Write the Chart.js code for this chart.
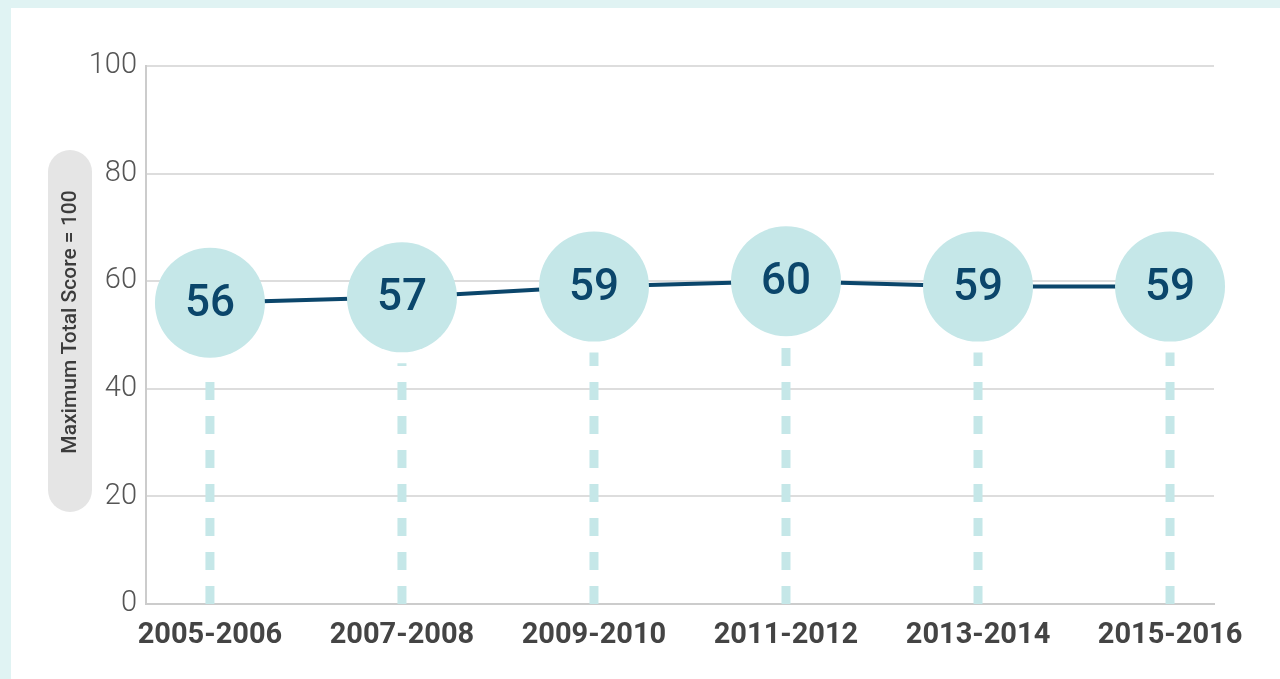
<!DOCTYPE html>
<html>
<head>
<meta charset="utf-8">
<script src="https://cdn.jsdelivr.net/npm/chart.js@4/dist/chart.umd.min.js"></script>
<style>
  html, body { margin: 0; padding: 0; background: #e0f3f3; overflow: hidden; }
  #panel { position: absolute; left: 11px; top: 8px; width: 1269px; height: 671px; background: #fff; }
  canvas { display: block; }
</style>
</head>
<body>
<div id="panel"><canvas id="scoreChart" width="1269" height="671"></canvas></div>
<script>
// Data
const years = ['2005-2006', '2007-2008', '2009-2010', '2011-2012', '2013-2014', '2015-2016'];
const scores = [56, 57, 59, 60, 59, 59];
const yTicks = [0, 20, 40, 60, 80, 100];
const yTitle = 'Maximum Total Score = 100';

const navy = '#0b466b';
const bubble = '#c5e7e8';

// dashed drop lines from each bubble down to the axis
const dropLines = {
    id: 'dropLines',
    beforeDatasetsDraw(chart) {
        const ctx = chart.ctx;
        const meta = chart.getDatasetMeta(0);
        const bottom = chart.chartArea.bottom;
        ctx.save();
        ctx.strokeStyle = bubble;
        ctx.lineWidth = 9;
        ctx.setLineDash([18, 16]);
        meta.data.forEach(function (pt) {
            ctx.beginPath();
            ctx.moveTo(pt.x, bottom);
            ctx.lineTo(pt.x, pt.y + 66);
            ctx.stroke();
        });
        ctx.restore();
    }
};

// score numbers inside bubbles + the pill shaped y title
const bubbleLabels = {
    id: 'bubbleLabels',
    afterDatasetsDraw(chart) {
        const ctx = chart.ctx;
        const meta = chart.getDatasetMeta(0);
        ctx.save();
        ctx.fillStyle = navy;
        ctx.font = '500 44px Roboto';
        ctx.textAlign = 'center';
        ctx.textBaseline = 'middle';
        meta.data.forEach(function (pt, i) {
            ctx.fillText(String(scores[i]), pt.x, pt.y + 2);
        });
        ctx.restore();
    },
    afterDraw(chart) {
        const ctx = chart.ctx;
        const x = 37, y = 142, w = 44, h = 362, r = 22;
        ctx.save();
        ctx.fillStyle = '#e5e5e5';
        ctx.beginPath();
        ctx.roundRect(x, y, w, h, r);
        ctx.fill();
        ctx.translate(x + w / 2, 314);
        ctx.rotate(-Math.PI / 2);
        ctx.fillStyle = '#3c3c3c';
        ctx.font = '500 21px Roboto';
        ctx.textAlign = 'center';
        ctx.textBaseline = 'middle';
        ctx.fillText(yTitle, 0, 1);
        ctx.restore();
    }
};

const ctx = document.getElementById('scoreChart').getContext('2d');
new Chart(ctx, {
    type: 'line',
    data: {
        datasets: [{
            data: scores.map(function (v, i) { return { x: i, y: v }; }),
            borderColor: navy,
            borderWidth: 4,
            tension: 0,
            clip: false,
            pointRadius: 55,
            pointHoverRadius: 55,
            pointBackgroundColor: bubble,
            pointBorderWidth: 0,
            pointHoverBorderWidth: 0
        }]
    },
    options: {
        responsive: false,
        animation: false,
        events: [],
        layout: { padding: { left: 0, top: 58, right: 66, bottom: 0 } },
        plugins: {
            legend: { display: false },
            tooltip: { enabled: false }
        },
        scales: {
            x: {
                type: 'linear',
                min: -0.333,
                max: 5.229,
                afterBuildTicks: function (scale) {
                    scale.ticks = years.map(function (_, i) { return { value: i }; });
                },
                afterFit: function (scale) { scale.height = 75; },
                grid: { display: false, drawTicks: false },
                border: { display: true, color: '#cccccc', width: 2 },
                ticks: {
                    autoSkip: false,
                    maxRotation: 0,
                    padding: 14,
                    color: '#444444',
                    font: { family: 'Roboto', size: 29, weight: 'bold' },
                    callback: function (v) { return years[v]; }
                }
            },
            y: {
                min: 0,
                max: 100,
                afterBuildTicks: function (scale) {
                    scale.ticks = yTicks.map(function (v) { return { value: v }; });
                },
                afterFit: function (scale) { scale.width = 135; },
                grid: { color: '#dddddd', lineWidth: 2, drawTicks: false },
                border: { display: true, color: '#cccccc', width: 2 },
                ticks: {
                    padding: 9,
                    color: '#555555',
                    font: { family: 'Roboto', size: 29, weight: 300 }
                }
            }
        }
    },
    plugins: [dropLines, bubbleLabels]
});
</script>
</body>
</html>
